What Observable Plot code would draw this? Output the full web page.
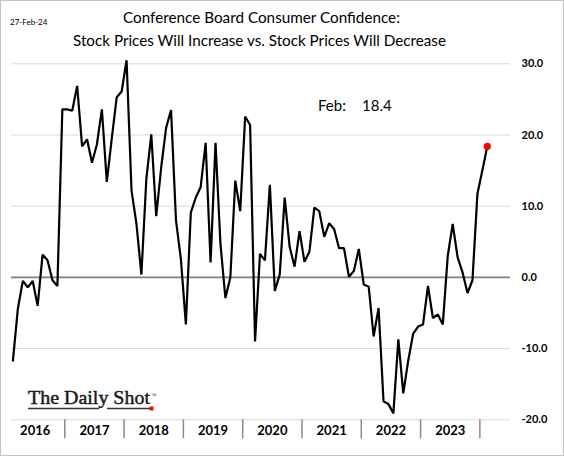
<!DOCTYPE html>
<html><head><meta charset="utf-8">
<script src="https://cdn.jsdelivr.net/npm/d3@7"></script>
<script src="https://cdn.jsdelivr.net/npm/@observablehq/plot@0.6"></script>
<style>
html,body{margin:0;padding:0;background:#fff;}
#wrap{position:relative;width:564px;height:456px;overflow:hidden;font-family:Lato,sans-serif;}
#wrap svg{position:absolute;left:0;top:0;}
#frame{position:absolute;left:0;top:0;width:564px;height:456px;box-sizing:border-box;border:1px solid #c4c4c4;pointer-events:none;}
</style>
</head><body>
<div id="wrap"></div>
<script>
// Monthly readings, Feb 2016 .. Feb 2024
const startYear = 2016, startMonth = 2;
const values = [
  -11.7, -4.4, -0.5, -1.4, -0.5, -4.0, 3.2, 2.4, -0.4, -1.2, 23.6,          // 2016 Feb-Dec
  23.6, 23.4, 26.9, 18.4, 19.4, 16.1, 18.7, 23.6, 13.4, 19.5, 25.3, 26.1,   // 2017
  30.5, 12.2, 7.5, 0.4, 13.8, 20.1, 8.6, 15.4, 21.0, 23.5, 8.0, 2.5,        // 2018
  -6.6, 9.1, 11.2, 12.7, 18.9, 2.1, 18.9, 4.7, -2.9, 0.0, 13.6, 9.3,        // 2019
  22.6, 21.4, -9.0, 3.3, 2.4, 13.0, -1.9, 0.4, 11.2, 4.3, 1.5, 6.5,         // 2020
  2.2, 3.6, 9.8, 9.3, 5.7, 7.6, 6.8, 4.1, 4.1, 0.1, 0.9, 4.0,               // 2021
  -1.0, -1.3, -8.3, -4.3, -17.4, -17.8, -19.1, -8.7, -16.3, -11.7, -7.9, -6.9, // 2022
  -6.6, -1.2, -5.7, -5.2, -6.6, 3.0, 7.5, 2.8, 0.7, -2.2, -0.4, 11.7,       // 2023
  15.0, 18.4                                                                // 2024
];
const yearLabels = ["2016","2017","2018","2019","2020","2021","2022","2023"];
const yTicks = [-20, -10, 0, 10, 20, 30];
const gridValues = [-20, -10, 10, 20, 30];
const monthNames = ["Jan","Feb","Mar","Apr","May","Jun","Jul","Aug","Sep","Oct","Nov","Dec"];

// month index since Jan 2016, point drawn at slot centre
const data = values.map((v, i) => {
  const idx = (startMonth - 1) + i;
  return {m: idx + 0.5, v, month: monthNames[idx % 12]};
});
const last = data[data.length - 1];
const sepPositions = yearLabels.map((_, k) => 12 * (k + 1));
const labelPositions = yearLabels.map((_, k) => 12 * k + 6);

const chart = Plot.plot({
  width: 564, height: 456,
  marginLeft: 11, marginRight: 54, marginTop: 63.3, marginBottom: 36.7,
  x: {type: "linear", domain: [1.21, 102.2]},
  y: {domain: [-20, 30]},
  style: {background: "transparent", fontFamily: "Lato, sans-serif", color: "#000"},
  marks: [
    Plot.ruleY(gridValues, {stroke: "#d9d9d9", strokeWidth: 1}),
    Plot.ruleY([0], {stroke: "#7f7f7f", strokeWidth: 1.6}),
    Plot.axisY({anchor: "right", ticks: yTicks, tickSize: 0, tickPadding: 11,
      tickFormat: d => d.toFixed(1), fontWeight: "bold", fontSize: 11, label: null}),
    Plot.axisX({ticks: sepPositions, tickSize: 19, tickFormat: () => "",
      stroke: "#8a8a8a", strokeWidth: 1.5, label: null}),
    Plot.axisX({ticks: labelPositions, tickSize: 0, tickPadding: 6,
      tickFormat: d => yearLabels[labelPositions.indexOf(d)],
      fontWeight: "bold", fontSize: 13, label: null}),
    Plot.line(data, {x: "m", y: "v", stroke: "#000", strokeWidth: 2.2, strokeLinejoin: "miter"}),
    Plot.dot([last], {x: "m", y: "v", r: 3.6, fill: "#ff0000", stroke: "none"})
  ]
});

const wrap = document.getElementById("wrap");
wrap.appendChild(chart);

// text overlay
const ov = d3.select(wrap).append("svg")
  .attr("width", 564).attr("height", 456)
  .style("font-family", "Lato, sans-serif");
ov.append("text").attr("x", 10).attr("y", 24.5).attr("font-size", 8).text("27-Feb-24");
ov.append("text").attr("x", 123).attr("y", 23.3)
  .attr("font-size", 16).attr("textLength", 277).attr("lengthAdjust", "spacingAndGlyphs")
  .text("Conference Board Consumer Confidence:");
ov.append("text").attr("x", 73).attr("y", 46)
  .attr("font-size", 16).attr("textLength", 373).attr("lengthAdjust", "spacingAndGlyphs")
  .text("Stock Prices Will Increase vs. Stock Prices Will Decrease");
ov.append("text").attr("x", 318).attr("y", 111).attr("font-size", 15).text(last.month + ":");
ov.append("text").attr("x", 362).attr("y", 111).attr("font-size", 15).text(last.v.toFixed(1));

// logo
const logo = ov.append("g");
logo.append("text").attr("x", 28).attr("y", 404.3)
  .attr("font-family", "'Liberation Serif', 'DejaVu Serif', serif")
  .attr("font-size", 19).attr("fill", "#1a1a1a").attr("stroke", "#1a1a1a").attr("stroke-width", 0.45)
  .attr("textLength", 122).attr("lengthAdjust", "spacingAndGlyphs")
  .text("The Daily Shot");
logo.append("text").attr("x", 151.5).attr("y", 397)
  .attr("font-family", "'Liberation Serif', serif").attr("font-size", 7).attr("fill", "#1a1a1a").text("®");
logo.append("line").attr("x1", 28).attr("x2", 99).attr("y1", 408.5).attr("y2", 408.5)
  .attr("stroke", "#333").attr("stroke-width", 1.3);
logo.append("line").attr("x1", 107).attr("x2", 150).attr("y1", 408.5).attr("y2", 408.5)
  .attr("stroke", "#333").attr("stroke-width", 1.3);
logo.append("rect").attr("x", 149.5).attr("y", 406.5).attr("width", 4).attr("height", 4).attr("fill", "#ff0000");

const frame = document.createElement("div");
frame.id = "frame";
wrap.appendChild(frame);
</script>
</body></html>
